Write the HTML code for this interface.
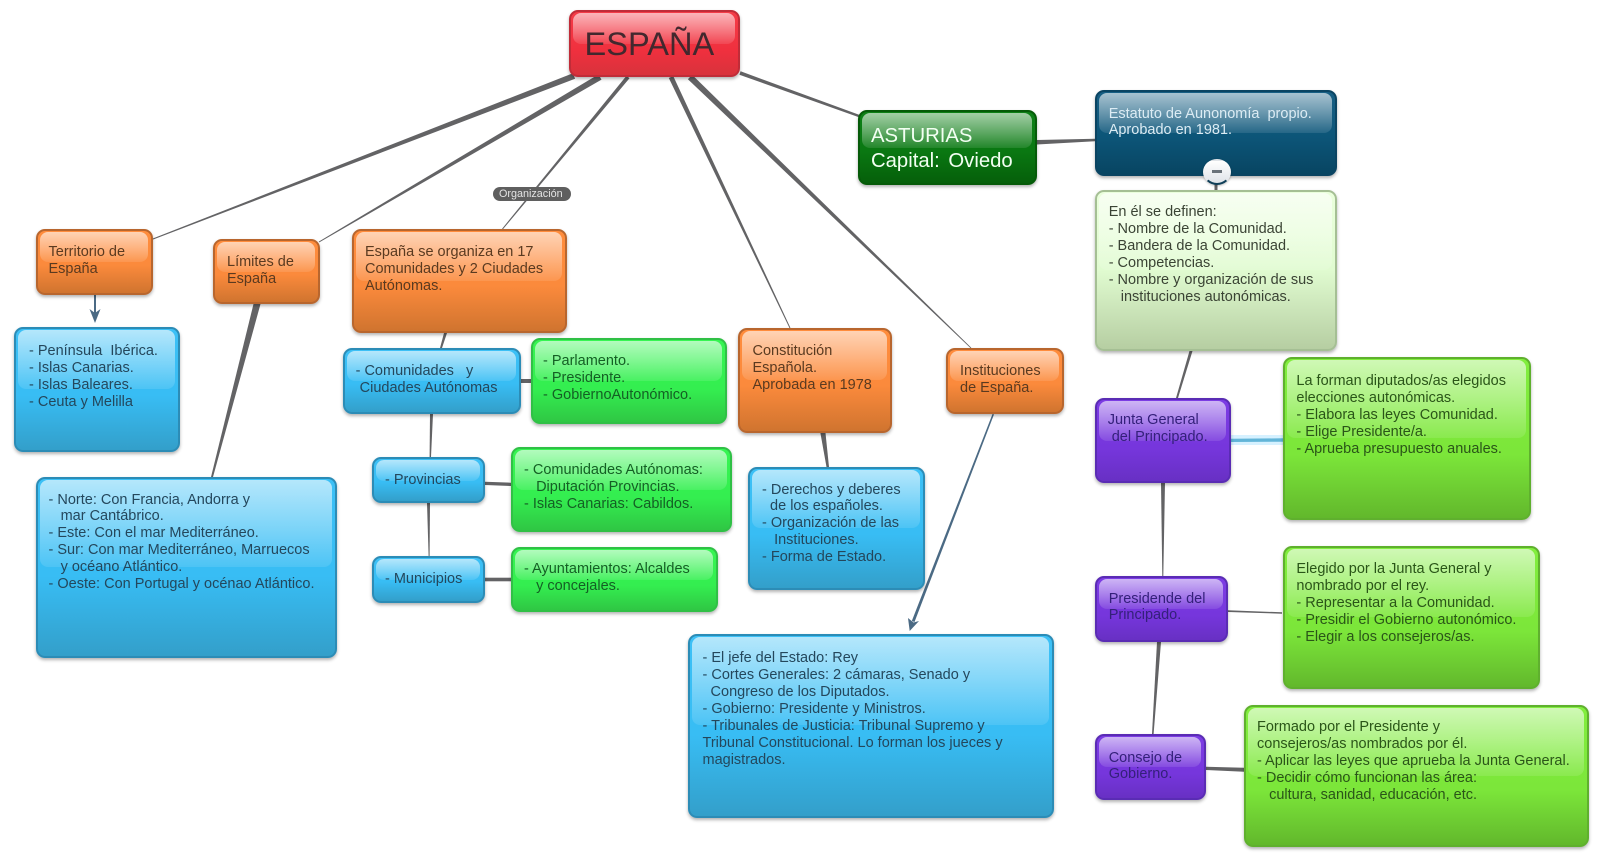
<!DOCTYPE html>
<html lang="es"><head><meta charset="utf-8"><title>España</title>
<style>
html,body{margin:0;padding:0;background:#fff}
#r{position:relative;width:1600px;height:857px;overflow:hidden;background:#fff;font-family:"Liberation Sans",Arial,sans-serif;filter:blur(.35px)}
svg{position:absolute;left:0;top:0}
.b{position:absolute;box-sizing:border-box;border:2px solid;border-radius:9px;box-shadow:0 2px 3px rgba(0,0,0,.3)}
.b:before{content:"";position:absolute;left:2px;right:3px;top:1px;height:49%;border-radius:8px;background:linear-gradient(rgba(255,255,255,.62),rgba(255,255,255,.34) 55%,rgba(255,255,255,.1))}
.t{position:absolute;white-space:pre;font-size:14.5px;line-height:16.9px;margin-top:.7px}
.red{background:linear-gradient(#f43c48,#f0303e 60%,#d8323c);border-color:#c02c38}
.or{background:linear-gradient(#ff8c3c,#fb8a3c 55%,#d0742f);border-color:#b8662e}
.bl{background:linear-gradient(#3cc0f6,#38bdf4 55%,#339fca);border-color:#2c8cb6}
.gr{background:linear-gradient(#36f552,#34ee50 60%,#2fc744);border-color:#30c046}
.li{background:linear-gradient(#82ee3e,#7ce63a 60%,#62b82c);border-color:#5fb02e}
.pu{background:linear-gradient(#7c3ce4,#7636dc 60%,#6830c4);border-color:#5a2cb4}
.db{background:linear-gradient(#175f84,#0c5578 55%,#084562);border-color:#0a4462}
.dg{background:linear-gradient(#0d8016,#0a7812 55%,#055f0a);border-color:#055a08}
.pa{background:linear-gradient(#eaffdc,#e0fbd0 50%,#b6cea2);border-color:#a5bf94}
.tor{color:#5a3a20}.tbl{color:#24475c}.tgr{color:#145f24}.tli{color:#2a5518}.tpu{color:#34207a}.tpa{color:#3a4334}
</style></head><body><div id="r">
<svg width="1600" height="857" viewBox="0 0 1600 857">
<g fill="#636365">
<polygon points="575.1,78.8 572.9,73.2 152.8,238.5 153.2,239.5"/>
<polygon points="601.5,79.6 598.5,74.4 318.75,241.6 319.25,242.4"/>
<polygon points="629.5,78.3 626.5,75.7 502.1,228.7 502.9,229.3"/>
<polygon points="673.2,76 668.8,78 789.6,328.2 790.4,327.8"/>
<polygon points="692.1,74.8 687.9,79.2 970.7,348.3 971.3,347.7"/>
<polygon points="740.6,71.3 739.4,74.7 858.6,117.1 859.4,114.9"/>
<polygon points="1037,140 1037,144.5 1095,141.3 1095,138.7"/>
<rect x="1214.5" y="176" width="3" height="15"/>
<polygon points="1189.5,351 1192.5,351 1178,398 1176,398"/>
<polygon points="253.5,304 260.5,304 213,477 211,477"/>
<polygon points="444,333 447,333 442,348 440,348"/>
<rect x="521" y="379" width="10" height="4"/>
<polygon points="430,414 433,414 431,457 429.6,457"/>
<polygon points="485,481.7 485,485 511,486 511,482.7"/>
<polygon points="427,503 430,503 429.6,556 428.6,556"/>
<rect x="485" y="577.7" width="26" height="3.6"/>
<polygon points="820.4,433 825.5,433 829,467 826.5,467"/>
<polygon points="1161,483 1165,483 1163.3,576 1162.3,576"/>
<polygon points="1157,642 1161,642 1153.6,734 1152,734"/>
<polygon points="1228,610.3 1228,612 1282,613.7 1282,612.3"/>
<polygon points="1206,766.7 1206,770 1244,771.7 1244,767.7"/>
</g>
<rect x="1231" y="435" width="52" height="10" fill="#d6f1ff"/>
<polygon points="1231,438.8 1231,442 1283,441.7 1283,438.3" fill="#62b5d8"/>
<g fill="#4b6a84">
<rect x="94" y="295" width="2" height="18"/>
<polygon points="95,323 89.5,309 95,313 100.5,309"/>
<polygon points="992.5,414 994,414.4 914.5,622 911.8,621"/>
<polygon points="909.7,631 908,618 913.5,622.5 919,621"/>
</g>
</svg>

<div class="b red" style="left:569px;top:10px;width:171px;height:67px"></div>
<div class="b or" style="left:36px;top:229px;width:117px;height:66px"></div>
<div class="b or" style="left:213px;top:239px;width:107px;height:65px"></div>
<div class="b or" style="left:352px;top:229px;width:215px;height:104px"></div>
<div class="b bl" style="left:343px;top:348px;width:178px;height:66px"></div>
<div class="b gr" style="left:531px;top:338px;width:196px;height:86px"></div>
<div class="b bl" style="left:14px;top:327px;width:166px;height:125px"></div>
<div class="b bl" style="left:36px;top:477px;width:301px;height:181px"></div>
<div class="b bl" style="left:372px;top:457px;width:113px;height:46px"></div>
<div class="b bl" style="left:372px;top:556px;width:113px;height:47px"></div>
<div class="b gr" style="left:511px;top:447px;width:221px;height:85px"></div>
<div class="b gr" style="left:511px;top:547px;width:207px;height:65px"></div>
<div class="b or" style="left:738px;top:328px;width:154px;height:105px"></div>
<div class="b bl" style="left:748px;top:467px;width:177px;height:123px"></div>
<div class="b or" style="left:946px;top:348px;width:118px;height:66px"></div>
<div class="b bl" style="left:688px;top:634px;width:366px;height:184px"></div>
<div class="b dg" style="left:858px;top:110px;width:179px;height:75px"></div>
<div class="b db" style="left:1095px;top:90px;width:242px;height:86px"></div>
<div class="b pa" style="left:1095px;top:190px;width:242px;height:161px"></div>
<div class="b pu" style="left:1095px;top:398px;width:136px;height:85px"></div>
<div class="b li" style="left:1283px;top:357px;width:248px;height:163px"></div>
<div class="b pu" style="left:1095px;top:576px;width:133px;height:66px"></div>
<div class="b li" style="left:1283px;top:546px;width:257px;height:143px"></div>
<div class="b pu" style="left:1095px;top:734px;width:111px;height:66px"></div>
<div class="b li" style="left:1244px;top:705px;width:345px;height:142px"></div>

<div style="position:absolute;left:1203px;top:158.5px;width:28px;height:26px;box-sizing:border-box;border-radius:50%;background:linear-gradient(#fff,#dfe3e8);border:2px solid transparent;border-bottom-color:#0f3f58;box-shadow:0 1px 2px rgba(0,0,0,.25)"></div>
<div style="position:absolute;left:1212px;top:170px;width:10px;height:3px;background:#6a727a"></div>

<div style="position:absolute;left:493px;top:187px;width:78px;height:14px;border-radius:7px;background:#5f5f5f"></div>
<div class="t" style="left:499px;top:186.5px;font-size:10.8px;line-height:14px;color:#e4e4e4">Organización</div>

<div class="t" style="left:584.5px;top:23px;font-size:32.6px;line-height:40px;color:#42282e">ESPAÑA</div>
<div class="t tor" style="left:48.5px;top:243.3px">Territorio de
España</div>
<div class="t tor" style="left:227px;top:253.3px">Límites de
España</div>
<div class="t tor" style="left:365px;top:243.3px">España se organiza en 17
Comunidades y 2 Ciudades
Autónomas.</div>
<div class="t tbl" style="left:355.6px;top:362.3px">- Comunidades   y
 Ciudades Autónomas</div>
<div class="t tgr" style="left:543px;top:352.3px">- Parlamento.
- Presidente.
- GobiernoAutonómico.</div>
<div class="t tbl" style="left:29px;top:342.3px">- Península  Ibérica.
- Islas Canarias.
- Islas Baleares.
- Ceuta y Melilla</div>
<div class="t tbl" style="left:48.5px;top:490.9px">- Norte: Con Francia, Andorra y
   mar Cantábrico.
- Este: Con el mar Mediterráneo.
- Sur: Con mar Mediterráneo, Marruecos
   y océano Atlántico.
- Oeste: Con Portugal y océnao Atlántico.</div>
<div class="t tbl" style="left:385px;top:470.9px">- Provincias</div>
<div class="t tbl" style="left:385px;top:569.9px">- Municipios</div>
<div class="t tgr" style="left:524px;top:461.6px">- Comunidades Autónomas:
   Diputación Provincias.
- Islas Canarias: Cabildos.</div>
<div class="t tgr" style="left:524px;top:560.3px">- Ayuntamientos: Alcaldes
   y concejales.</div>
<div class="t tor" style="left:752.5px;top:342.3px">Constitución
Española.
Aprobada en 1978</div>
<div class="t tbl" style="left:762px;top:480.9px">- Derechos y deberes
  de los españoles.
- Organización de las
   Instituciones.
- Forma de Estado.</div>
<div class="t tor" style="left:960px;top:362.3px">Instituciones
de España.</div>
<div class="t tbl" style="left:702.5px;top:649.6px">- El jefe del Estado: Rey
- Cortes Generales: 2 cámaras, Senado y
  Congreso de los Diputados.
- Gobierno: Presidente y Ministros.
- Tribunales de Justicia: Tribunal Supremo y
Tribunal Constitucional. Lo forman los jueces y
magistrados.</div>
<div class="t" style="left:871px;top:123.6px;font-size:20.3px;line-height:24.4px;color:#f2fff2">ASTURIAS
<span style="word-spacing:3px">Capital: Oviedo</span></div>
<div class="t" style="left:1108.7px;top:104.9px;color:#dcecf4">Estatuto de Aunonomía  propio.
Aprobado en 1981.</div>
<div class="t tpa" style="left:1108.7px;top:203.6px">En él se definen:
- Nombre de la Comunidad.
- Bandera de la Comunidad.
- Competencias.
- Nombre y organización de sus
   instituciones autonómicas.</div>
<div class="t tpu" style="left:1107.7px;top:411.6px">Junta General
 del Principado.</div>
<div class="t tli" style="left:1296.4px;top:372.3px">La forman diputados/as elegidos
elecciones autonómicas.
- Elabora las leyes Comunidad.
- Elige Presidente/a.
- Aprueba presupuesto anuales.</div>
<div class="t tpu" style="left:1108.7px;top:589.9px">Presidende del
Principado.</div>
<div class="t tli" style="left:1296.4px;top:560.3px">Elegido por la Junta General y
nombrado por el rey.
- Representar a la Comunidad.
- Presidir el Gobierno autonómico.
- Elegir a los consejeros/as.</div>
<div class="t tpu" style="left:1108.7px;top:748.9px">Consejo de
Gobierno.</div>
<div class="t tli" style="left:1257px;top:718.3px">Formado por el Presidente y
consejeros/as nombrados por él.
- Aplicar las leyes que aprueba la Junta General.
- Decidir cómo funcionan las área:
   cultura, sanidad, educación, etc.</div>
</div></body></html>
